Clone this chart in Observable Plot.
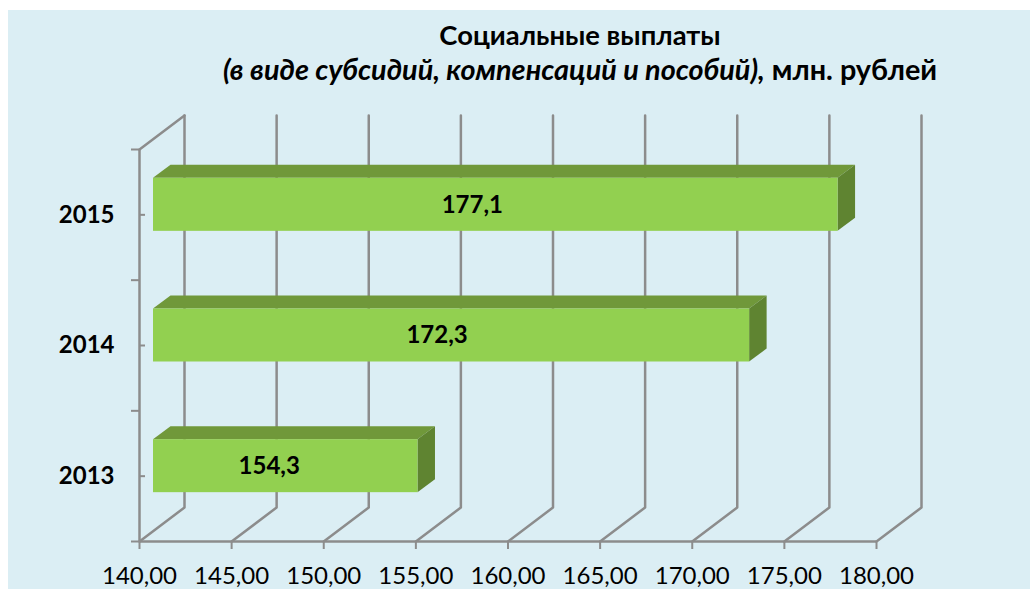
<!DOCTYPE html>
<html><head><meta charset="utf-8">
<script src="https://cdn.jsdelivr.net/npm/d3@7"></script>
<script src="https://cdn.jsdelivr.net/npm/@observablehq/plot@0.6"></script>
<style>
html,body{margin:0;background:#fff;overflow:hidden}
#panel{position:absolute;left:8px;top:10px;right:0;bottom:0;background:#dbeef4}
#title{position:absolute;left:140px;width:880px;top:17px;text-align:center;font:bold 27.4px/35px Lato,"Open Sans",sans-serif;color:#000}
#title .l2{font-size:28.8px}
#chart{position:absolute;left:0;top:0}
</style></head><body>
<div id="panel"></div>
<div id="title">Социальные выплаты<br><span class="l2"><i>(в виде субсидий, компенсаций и пособий),</i> млн. рублей</span></div>
<div id="chart"></div>
<script>
const years = ["2013","2014","2015"];
const values = [154.3,172.3,177.1];
const labels = ["154,3","172,3","177,1"];
const gridValues = [140,145,150,155,160,165,170,175,180];
const labelShift = [-2,0,-9];

const pxX = 737/40, pxY = 392/3;
const depth = (px,py)=>({x:px/pxX,y:py/pxY});
const back = depth(45,34), front = depth(14,10), frontEnd = depth(15,10), bar = depth(17.5,13);
const halfH = 26.5/pxY;
const grey = "#8c8c8c";
const rows = years.map((year,i)=>({year,value:values[i],label:labels[i],c:i+0.5}));
const grid = gridValues.flatMap(v=>[
  {g:v,x:v,y:0},
  {g:v,x:v+back.x,y:back.y},
  {g:v,x:v+back.x,y:3+back.y}
]);
const top3 = [{x:140,y:3},{x:140+back.x,y:3+back.y}];
const fb = r=>r.c-halfH+front.y, ft = r=>r.c+halfH+front.y;
const topFace = rows.flatMap(r=>[
  {k:r.year,y:ft(r),x1:140+front.x,x2:r.value+frontEnd.x},
  {k:r.year,y:ft(r)+bar.y,x1:140+front.x+bar.x,x2:r.value+frontEnd.x+bar.x}
]);
const sideFace = rows.flatMap(r=>[
  {k:r.year,x:r.value+frontEnd.x,y1:fb(r),y2:ft(r)},
  {k:r.year,x:r.value+frontEnd.x+bar.x,y1:fb(r)+bar.y,y2:ft(r)+bar.y}
]);

const fontFam = 'Lato,"Open Sans",sans-serif';
const plot = Plot.plot({
  width:1030,height:589,
  marginLeft:139,marginRight:154,marginTop:149,marginBottom:48,
  style:{background:"transparent",fontFamily:fontFam,overflow:"visible"},
  x:{type:"linear",domain:[140,180]},
  y:{type:"linear",domain:[0,3]},
  marks:[
    Plot.line(grid,{x:"x",y:"y",z:"g",stroke:grey,strokeWidth:2.5}),
    Plot.line(top3,{x:"x",y:"y",stroke:grey,strokeWidth:2.5}),
    Plot.ruleY([0],{x1:140,x2:180,stroke:grey,strokeWidth:2.5}),
    Plot.ruleX([140],{y1:0,y2:3,stroke:grey,strokeWidth:2.5}),
    Plot.axisX({ticks:gridValues,tickSize:8,tickPadding:17,stroke:grey,strokeWidth:2,
      fill:"#000",fontSize:24,label:null,tickFormat:d=>d3.format(".2f")(d).replace(".",",")}),
    Plot.axisY({ticks:[0,1,2,3],tickSize:8,stroke:grey,strokeWidth:2,tickFormat:()=>"",label:null}),
    Plot.axisY({ticks:[0.5,1.5,2.5],tickSize:0,tickPadding:25,fill:"#000",fontSize:24,fontWeight:"bold",label:null,
      tickFormat:d=>years[d-0.5]}),
    Plot.ruleY([0.5,1.5,2.5],{x1:140,x2:140+6/pxX,stroke:grey,strokeWidth:2}),
    Plot.areaX(topFace,{y:"y",x1:"x1",x2:"x2",z:"k",fill:"#70983a"}),
    Plot.areaY(sideFace,{x:"x",y1:"y1",y2:"y2",z:"k",fill:"#5f8431"}),
    Plot.rectY(rows,{x1:140+front.x,x2:d=>d.value+frontEnd.x,y1:fb,y2:ft,fill:"#92d050"}),
    ...rows.map((r,i)=>Plot.text([r],{x:d=>(140+d.value)/2,y:d=>d.c+front.y,text:"label",
      dx:labelShift[i],fontSize:24,fontWeight:"bold",fill:"#000"}))
  ]
});
document.getElementById("chart").append(plot);
</script></body></html>
